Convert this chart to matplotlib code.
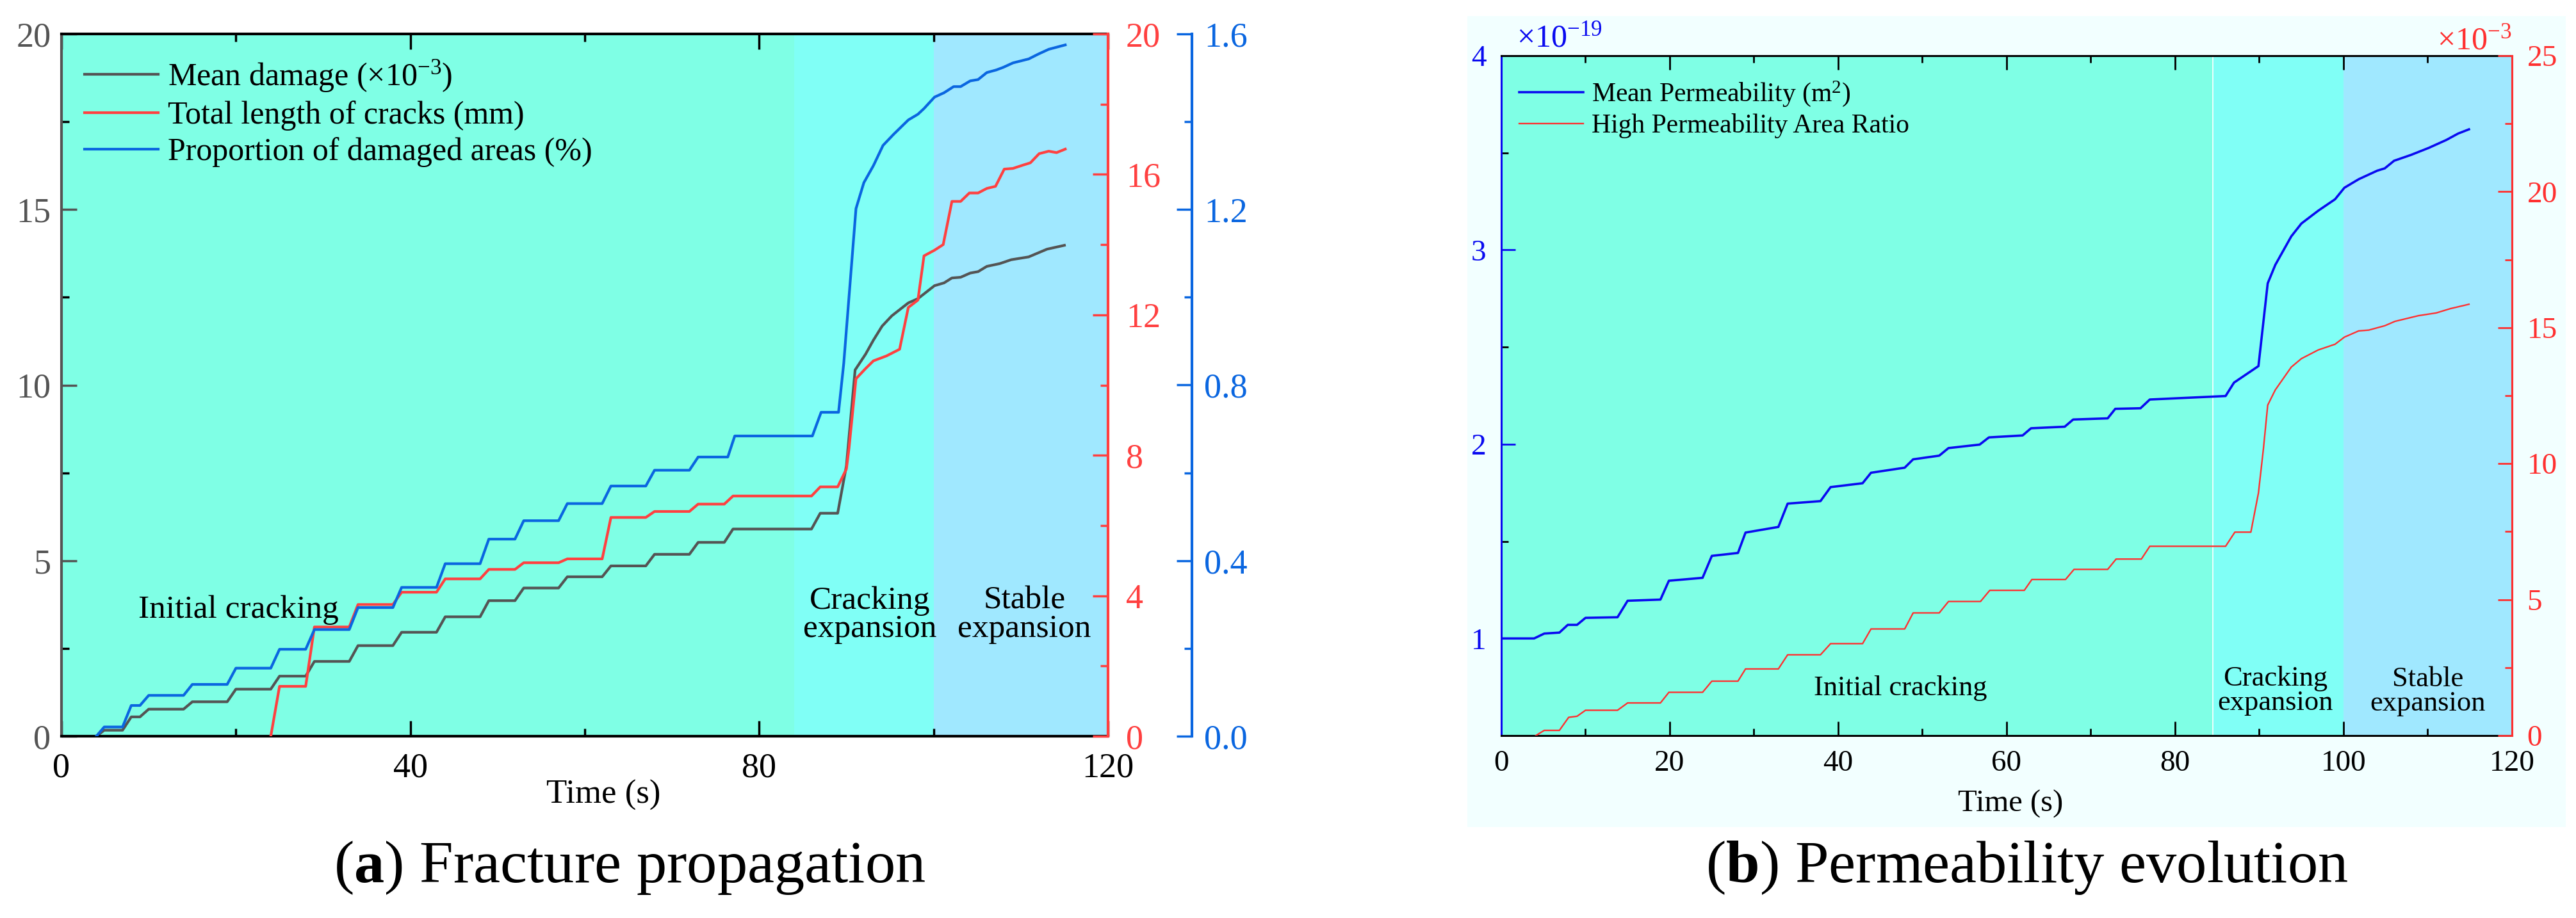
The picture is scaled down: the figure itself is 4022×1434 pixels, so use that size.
import matplotlib
matplotlib.use("Agg")
import matplotlib.pyplot as plt
from matplotlib.patches import Rectangle
from matplotlib.ticker import MultipleLocator

plt.rcParams["font.family"] = ["Liberation Serif", "DejaVu Serif"]
plt.rcParams["mathtext.fontset"] = "custom"
plt.rcParams["mathtext.rm"] = "Liberation Serif"
plt.rcParams["mathtext.it"] = "Liberation Serif:italic"
plt.rcParams["mathtext.bf"] = "Liberation Serif:bold"

# ---- (a) fracture propagation ----
t_damage = [4, 4.9, 7, 8, 9, 10, 14, 15, 19, 20, 24, 25, 28, 29, 33, 34, 38, 39, 43, 44,
            48, 49, 52, 53, 57, 58, 62, 63, 67, 68, 72, 73, 76, 77, 86, 87, 89, 90, 91,
            92.2, 93.1, 94.1, 95.2, 97.1, 98.2, 100.1, 101.2, 102.1, 103.1, 104.2, 105.1,
            106.1, 107.6, 108.9, 110.9, 113, 115]
damage = [0, 0.17, 0.17, 0.55, 0.55, 0.77, 0.77, 0.98, 0.98, 1.34, 1.34, 1.71, 1.71, 2.13,
          2.13, 2.58, 2.58, 2.96, 2.96, 3.40, 3.40, 3.86, 3.86, 4.22, 4.22, 4.54, 4.54, 4.85,
          4.85, 5.18, 5.18, 5.52, 5.52, 5.90, 5.90, 6.35, 6.35, 7.7, 10.43,
          10.88, 11.28, 11.68, 11.97, 12.34, 12.46, 12.83, 12.91, 13.05, 13.07, 13.19, 13.23,
          13.38, 13.46, 13.57, 13.65, 13.87, 13.98]

t_crack = [24, 25, 28, 29, 33, 34, 38, 39, 43, 44, 48, 49, 52, 53, 57, 58, 62, 63, 67, 68,
           72, 73, 76, 77, 86, 87, 89, 90, 90.3, 91.1, 92.2, 93.1, 94.6, 96.1, 97.1, 98.2,
           98.9, 100.1, 101.1, 102.1, 103.1, 104.1, 105.1, 106.1, 107.1, 108.1, 109.1, 110.2,
           111.1, 112.1, 113.2, 114.1, 115.1]
crack_len = [0, 1.42, 1.42, 3.11, 3.11, 3.75, 3.75, 4.10, 4.10, 4.48, 4.48, 4.75, 4.75, 4.94,
             4.94, 5.05, 5.05, 6.23, 6.23, 6.40, 6.40, 6.61, 6.61, 6.84, 6.84, 7.10, 7.10, 7.61,
             8.2, 10.18, 10.47, 10.69, 10.83, 11.02, 12.21, 12.42, 13.68, 13.84, 14.0, 15.23,
             15.23, 15.47, 15.47, 15.6, 15.66, 16.15, 16.17, 16.26, 16.33, 16.59, 16.66, 16.62,
             16.72]

t_area = [4, 4.9, 7, 8, 9, 10, 14, 15, 19, 20, 24, 25, 28, 29, 33, 34, 38, 39, 43, 44,
          48, 49, 52, 53, 57, 58, 62, 63, 67, 68, 72, 73, 76.4, 77.2, 86.1, 87.1, 89.1, 89.7,
          91.1, 92, 93.1, 94.2, 95.4, 97.1, 98.2, 98.9, 100.1, 101.2, 102.3, 103.1, 104.2,
          105.1, 106.1, 107.2, 108, 109.1, 110.9, 112, 113.2, 115.1]
damaged_area = [0, 0.021, 0.021, 0.070, 0.070, 0.093, 0.093, 0.118, 0.118, 0.155, 0.155,
                0.198, 0.198, 0.243, 0.243, 0.293, 0.293, 0.339, 0.339, 0.393, 0.393, 0.449,
                0.449, 0.491, 0.491, 0.530, 0.530, 0.570, 0.570, 0.606, 0.606, 0.636, 0.636,
                0.684, 0.684, 0.738, 0.738, 0.850, 1.202, 1.261, 1.300, 1.346, 1.371, 1.404,
                1.417, 1.430, 1.456, 1.466, 1.480, 1.480, 1.493, 1.496, 1.512, 1.518, 1.524,
                1.534, 1.543, 1.554, 1.565, 1.575]

# ---- (b) permeability evolution ----
t_perm = [0, 3.9, 5.1, 6.9, 7.9, 9, 10, 13.8, 15, 18.9, 19.9, 23.9, 25, 28.1, 29, 32.9, 34,
          37.9, 39.1, 42.9, 43.9, 47.9, 48.9, 52, 53.1, 56.8, 57.9, 61.9, 62.9, 66.9, 67.9,
          72, 72.9, 75.9, 77, 86, 87, 89.9, 91, 91.9, 93.8, 95, 97, 99, 100.1, 101.8, 104,
          104.9, 106, 108, 110.1, 112.2, 113.6, 114.9]
perm = [1.0, 1.0, 1.025, 1.03, 1.07, 1.07, 1.106, 1.109, 1.194, 1.2, 1.297, 1.312, 1.425,
        1.44, 1.545, 1.574, 1.694, 1.707, 1.779, 1.799, 1.853, 1.879, 1.922, 1.941, 1.98,
        1.998, 2.035, 2.045, 2.082, 2.09, 2.127, 2.133, 2.182, 2.185, 2.23, 2.248, 2.317,
        2.402, 2.828, 2.923, 3.07, 3.136, 3.202, 3.261, 3.32, 3.364, 3.408, 3.42, 3.459,
        3.489, 3.525, 3.566, 3.599, 3.621]  # x1e-19 m2

t_ratio = [4.1, 5.1, 6.9, 8, 9, 10, 13.8, 15, 18.9, 19.9, 23.9, 25, 28.1, 29, 32.9, 34, 37.9,
           39.1, 42.9, 43.9, 47.9, 48.9, 52, 53.1, 56.9, 58, 62.1, 63, 67, 68, 72, 73, 76, 77,
           86, 87.1, 89, 89.9, 90.5, 91, 91.9, 93.8, 95, 97, 99, 100.1, 101.8, 103, 104.9,
           106.1, 108.9, 111, 112.7, 114.9]
high_ratio = [0, 0.19, 0.19, 0.67, 0.71, 0.93, 0.93, 1.2, 1.2, 1.59, 1.59, 2.0, 2.0, 2.45,
              2.45, 2.97, 2.97, 3.38, 3.38, 3.92, 3.92, 4.51, 4.51, 4.93, 4.93, 5.34, 5.34,
              5.74, 5.74, 6.11, 6.11, 6.49, 6.49, 6.96, 6.96, 7.48, 7.48, 8.92, 10.57, 12.15,
              12.71, 13.55, 13.86, 14.18, 14.39, 14.65, 14.88, 14.91, 15.07, 15.23, 15.44,
              15.54, 15.7, 15.86]  # x1e-3

stage_edges_a = [0, 84, 100, 120]
stage_edges_b = [0, 84.5, 100, 120]
stage_colors = ["#7FFFE5", "#80FFF6", "#A0E8FF"]

GRAY = "#545454"
RED_A = "#FF4040"
BLUE_A = "#0A66E0"
BLUE_B = "#0A0AF0"
RED_B = "#FF3030"

W, H = 4023, 1434
fig = plt.figure(figsize=(W / 100, H / 100), dpi=100)

# light background behind panel (b)
fig.patches.append(Rectangle((2291 / W, 1 - 1292 / H), (4006 - 2291) / W, (1292 - 25) / H,
                             transform=fig.transFigure, facecolor="#F2FFFF", edgecolor="none",
                             zorder=-5))

# ================= panel (a) =================
ax1 = fig.add_axes([96 / W, 1 - 1150 / H, 1634 / W, 1097 / H])
for i in range(3):
    ax1.axvspan(stage_edges_a[i], stage_edges_a[i + 1], color=stage_colors[i], lw=0, zorder=0)
ax1.plot(t_damage, damage, color=GRAY, lw=3, label=r"Mean damage (×10$^{-3}$)")
ax1.set_xlim(0, 120)
ax1.set_ylim(0, 20)
ax1.xaxis.set_major_locator(MultipleLocator(40))
ax1.xaxis.set_minor_locator(MultipleLocator(20))
ax1.yaxis.set_major_locator(MultipleLocator(5))
ax1.yaxis.set_minor_locator(MultipleLocator(2.5))
ax1.tick_params(axis="both", which="both", direction="in", width=2.5, top=True, right=False)
ax1.tick_params(axis="both", which="major", length=17)
ax1.tick_params(axis="both", which="minor", length=8.5)
ax1.tick_params(axis="x", labelsize=39, pad=18, colors="black")
ax1.tick_params(axis="y", labelsize=39, pad=12, colors=GRAY)
ax1.spines["left"].set_color(GRAY)
ax1.spines["right"].set_visible(False)
for s in ["left", "top", "bottom"]:
    ax1.spines[s].set_linewidth(3)
ax1.set_xlabel("Time (s)", fontsize=38)
ax1.xaxis.set_label_coords(0.518, -0.062)

ax_r = ax1.twinx()
ax_r.plot(t_crack, crack_len, color=RED_A, lw=3, label="Total length of cracks (mm)")
ax_r.set_ylim(0, 20)
ax_r.yaxis.set_major_locator(MultipleLocator(4))
ax_r.yaxis.set_minor_locator(MultipleLocator(2))
ax_r.tick_params(axis="y", which="both", direction="in", width=2.5, colors=RED_A,
                 labelsize=39, pad=20)
ax_r.tick_params(axis="y", which="major", length=17)
ax_r.tick_params(axis="y", which="minor", length=8.5)
for s in ["left", "top", "bottom"]:
    ax_r.spines[s].set_visible(False)
ax_r.spines["right"].set_color(RED_A)
ax_r.spines["right"].set_linewidth(3)

ax_b = ax1.twinx()
ax_b.plot(t_area, damaged_area, color=BLUE_A, lw=3, label="Proportion of damaged areas (%)")
ax_b.set_ylim(0, 1.6)
ax_b.spines["right"].set_position(("axes", 1 + 131 / 1634))
ax_b.yaxis.set_major_locator(MultipleLocator(0.4))
ax_b.yaxis.set_minor_locator(MultipleLocator(0.2))
ax_b.yaxis.set_major_formatter(matplotlib.ticker.FormatStrFormatter("%.1f"))
ax_b.tick_params(axis="y", which="both", direction="in", width=2.5, colors=BLUE_A,
                 labelsize=39, pad=14)
ax_b.tick_params(axis="y", which="major", length=17)
ax_b.tick_params(axis="y", which="minor", length=8.5)
for s in ["left", "top", "bottom"]:
    ax_b.spines[s].set_visible(False)
ax_b.spines["right"].set_color(BLUE_A)
ax_b.spines["right"].set_linewidth(3)

handles = ax1.get_lines() + ax_r.get_lines() + ax_b.get_lines()
ax_b.legend(handles, [h.get_label() for h in handles], loc="upper left",
            bbox_to_anchor=(0.022, 0.965), frameon=False, fontsize=36, handlelength=2.3,
            handletextpad=0.3, labelspacing=0.2, borderpad=0, borderaxespad=0)

ax_b.text(20.3, 3.6 * 1.6 / 20, "Initial cracking", fontsize=37, ha="center", va="center")
ax_b.text(92.7, 3.45 * 1.6 / 20, "Cracking\nexpansion", fontsize=37, ha="center", va="center",
          linespacing=0.95)
ax_b.text(110.4, 3.45 * 1.6 / 20, "Stable\nexpansion", fontsize=37, ha="center", va="center",
          linespacing=0.95)

fig.text(983 / W, 1 - 1355 / H, r"($\mathbf{a}$) Fracture propagation", fontsize=68,
         ha="center", va="center")

# ================= panel (b) =================
ax2 = fig.add_axes([2344 / W, 1 - 1149 / H, 1578 / W, 1062 / H])
for i in range(3):
    ax2.axvspan(stage_edges_b[i], stage_edges_b[i + 1], color=stage_colors[i], lw=0, zorder=0)
ax2.axvline(stage_edges_b[1], color="white", lw=1.2, zorder=0.5)
ax2.plot(t_perm, perm, color=BLUE_B, lw=2.6, label=r"Mean Permeability (m$^2$)")
ax2.set_xlim(0, 120)
ax2.set_ylim(0.5, 4)
ax2.xaxis.set_major_locator(MultipleLocator(20))
ax2.xaxis.set_minor_locator(MultipleLocator(10))
ax2.yaxis.set_major_locator(MultipleLocator(1))
ax2.yaxis.set_minor_locator(MultipleLocator(0.5))
ax2.tick_params(axis="both", which="both", direction="in", width=2, top=True, right=False)
ax2.tick_params(axis="both", which="major", length=16)
ax2.tick_params(axis="both", which="minor", length=8)
ax2.tick_params(axis="x", labelsize=34, pad=16, colors="black")
ax2.tick_params(axis="y", labelsize=34, pad=17, colors=BLUE_B)
ax2.spines["left"].set_color(BLUE_B)
ax2.spines["right"].set_visible(False)
for s in ["left", "top", "bottom"]:
    ax2.spines[s].set_linewidth(2.2)
ax2.set_xlabel("Time (s)", fontsize=35)
ax2.xaxis.set_label_coords(0.504, -0.08)
ax2.text(0.015, 1.014, r"×10$^{-19}$", transform=ax2.transAxes, fontsize=36,
         color=BLUE_B, ha="left", va="baseline")

ax2r = ax2.twinx()
ax2r.plot(t_ratio, high_ratio, color=RED_B, lw=1.7, label="High Permeability Area Ratio")
ax2r.set_ylim(0, 25)
ax2r.yaxis.set_major_locator(MultipleLocator(5))
ax2r.yaxis.set_minor_locator(MultipleLocator(2.5))
ax2r.tick_params(axis="y", which="both", direction="in", width=2, colors=RED_B,
                 labelsize=34, pad=17)
ax2r.tick_params(axis="y", which="major", length=16)
ax2r.tick_params(axis="y", which="minor", length=8)
for s in ["left", "top", "bottom"]:
    ax2r.spines[s].set_visible(False)
ax2r.spines["right"].set_color(RED_B)
ax2r.spines["right"].set_linewidth(2.2)
ax2r.text(1.0, 1.010, r"×10$^{-3}$", transform=ax2r.transAxes, fontsize=36,
          color=RED_B, ha="right", va="baseline")

handles2 = ax2.get_lines()[1:] + ax2r.get_lines()
ax2r.legend(handles2, [h.get_label() for h in handles2], loc="upper left",
            bbox_to_anchor=(0.018, 0.965), frameon=False, fontsize=30, handlelength=2.4,
            handletextpad=0.3, labelspacing=0.2, borderpad=0, borderaxespad=0)

ax2r.text(47.4, 1.74, "Initial cracking", fontsize=32, ha="center", va="center")
ax2r.text(91.9, 1.65, "Cracking\nexpansion", fontsize=32, ha="center", va="center",
          linespacing=0.95)
ax2r.text(110, 1.62, "Stable\nexpansion", fontsize=32, ha="center", va="center",
          linespacing=0.95)

fig.text(3165 / W, 1 - 1355 / H, r"($\mathbf{b}$) Permeability evolution", fontsize=68,
         ha="center", va="center")

fig.savefig("out.png", dpi=100, facecolor="white")
